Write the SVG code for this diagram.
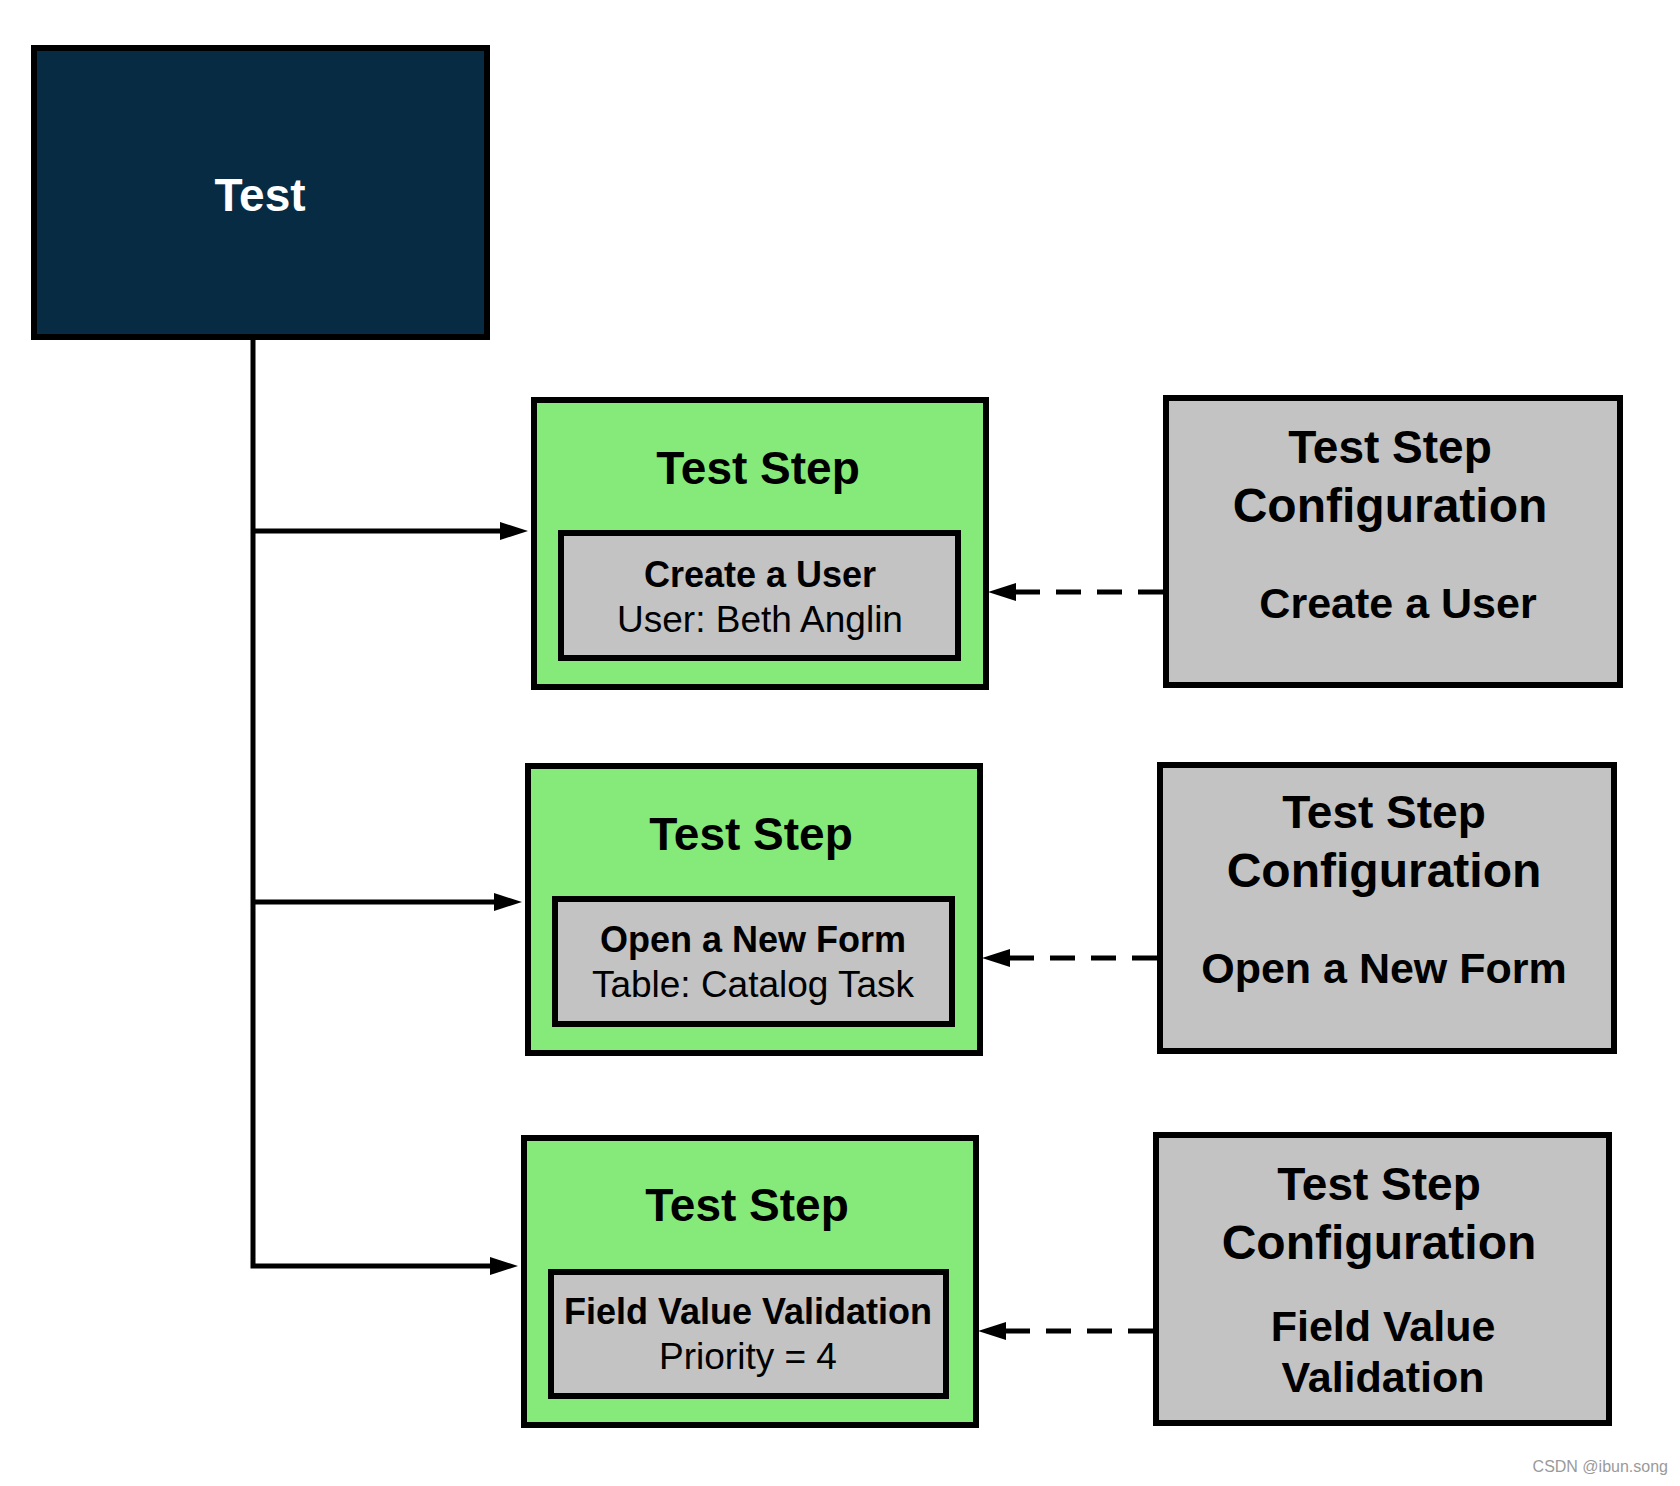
<svg xmlns="http://www.w3.org/2000/svg" width="1680" height="1486" viewBox="0 0 1680 1486">
<defs>
<style>
.box{stroke:#000;stroke-width:6}
.test{fill:#062B42}
.green{fill:#86EA7A}
.gray{fill:#C3C3C3}
.conn{fill:none;stroke:#000;stroke-width:5}
.dash{stroke-dasharray:25 16}
text{font-family:"Liberation Sans",Arial,sans-serif;text-anchor:middle;fill:#000}
.h{font-weight:bold;font-size:46px}
.cf{font-weight:bold;font-size:48px}
.b{font-weight:bold;font-size:36px}
.r{font-size:37px}
.cb{font-weight:bold;font-size:43px}
.wm{font-size:15px;fill:#9a9a9a;text-anchor:end}
</style>
<marker id="ah" viewBox="0 0 28 18" markerWidth="28" markerHeight="18" refX="2" refY="9" orient="auto" markerUnits="userSpaceOnUse">
<path d="M0,0 L28,9 L0,18 z" fill="#000"/>
</marker>
</defs>
<rect width="1680" height="1486" fill="#fff"/>

<g id="connectors">
<path class="conn" d="M253,340 V1266 H492" marker-end="url(#ah)"/>
<path class="conn" d="M253,531 H502" marker-end="url(#ah)"/>
<path class="conn" d="M253,902 H496" marker-end="url(#ah)"/>
<path class="conn dash" d="M1163,592 H1014" marker-end="url(#ah)"/>
<path class="conn dash" d="M1157,958 H1008" marker-end="url(#ah)"/>
<path class="conn dash" d="M1153,1331 H1004" marker-end="url(#ah)"/>
</g>

<g id="test">
<rect class="box test" x="34" y="48" width="453" height="289"/>
<text x="260" y="211" style="font-weight:bold;font-size:46px;fill:#fff">Test</text>
</g>

<g id="step1">
<rect class="box green" x="534" y="400" width="452" height="287"/>
<text class="h" x="758" y="484">Test Step</text>
<rect class="box gray" x="561" y="533" width="397" height="125"/>
<text class="b" x="760" y="587">Create a User</text>
<text class="r" x="760" y="632">User: Beth Anglin</text>
</g>

<g id="config1">
<rect class="box gray" x="1166" y="398" width="454" height="287"/>
<text class="h" x="1390" y="463">Test Step</text>
<text class="cf" x="1390" y="522">Configuration</text>
<text class="cb" x="1398" y="618">Create a User</text>
</g>

<g id="step2">
<rect class="box green" x="528" y="766" width="452" height="287"/>
<text class="h" x="751" y="850">Test Step</text>
<rect class="box gray" x="555" y="899" width="397" height="125"/>
<text class="b" x="753" y="952">Open a New Form</text>
<text class="r" x="753" y="997">Table: Catalog Task</text>
</g>

<g id="config2">
<rect class="box gray" x="1160" y="765" width="454" height="286"/>
<text class="h" x="1384" y="828">Test Step</text>
<text class="cf" x="1384" y="887">Configuration</text>
<text class="cb" x="1384" y="983">Open a New Form</text>
</g>

<g id="step3">
<rect class="box green" x="524" y="1138" width="452" height="287"/>
<text class="h" x="747" y="1221">Test Step</text>
<rect class="box gray" x="551" y="1272" width="395" height="124"/>
<text class="b" x="748" y="1324">Field Value Validation</text>
<text class="r" x="748" y="1369">Priority = 4</text>
</g>

<g id="config3">
<rect class="box gray" x="1156" y="1135" width="453" height="288"/>
<text class="h" x="1379" y="1200">Test Step</text>
<text class="cf" x="1379" y="1259">Configuration</text>
<text class="cb" x="1383" y="1341">Field Value</text>
<text class="cb" x="1383" y="1392">Validation</text>
</g>

<text class="wm" x="1668" y="1472" style="font-size:16px">CSDN @ibun.song</text>
</svg>
